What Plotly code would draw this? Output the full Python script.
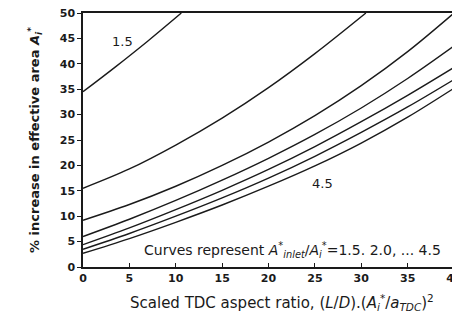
import plotly.graph_objects as go

# Curve parameter (A*_inlet / A_i*)
ratios = ["1.5", "2.0", "2.5", "3.0", "3.5", "4.0", "4.5"]

x_15 = [0, 3.5, 7, 10.6]
y_15 = [34.5, 39.4, 44.5, 50]

x_20 = [0, 5, 10, 15, 20, 25, 30.5]
y_20 = [15.5, 19.3, 24.0, 29.3, 35.3, 42.0, 50]

x_std = [0, 5, 10, 15, 20, 25, 30, 35, 40]
y_25 = [9.2, 12.3, 15.9, 20.0, 24.6, 29.8, 35.7, 42.4, 50]
y_30 = [6.0, 9.4, 13.1, 17.1, 21.4, 26.1, 31.3, 37.1, 43.5]
y_35 = [4.4, 7.7, 11.3, 15.1, 19.2, 23.7, 28.6, 33.8, 39.3]
y_40 = [3.5, 6.6, 10.0, 13.6, 17.5, 21.8, 26.5, 31.5, 36.9]
y_45 = [2.7, 5.6, 8.8, 12.2, 15.9, 19.9, 24.4, 29.5, 35.2]

xs = [x_15, x_20, x_std, x_std, x_std, x_std, x_std]
ys = [y_15, y_20, y_25, y_30, y_35, y_40, y_45]

x_ticks = [0, 5, 10, 15, 20, 25, 30, 35, 40]
y_ticks = [0, 5, 10, 15, 20, 25, 30, 35, 40, 45, 50]

x_title = "Scaled TDC aspect ratio, (<i>L</i>/<i>D</i>).(<i>A<sub>i</sub></i><sup>*</sup>/<i>a</i><sub><i>TDC</i></sub>)<sup>2</sup>"
y_title = "<b>% increase in effective area <i>A</i><sub><i>i</i></sub><sup>*</sup></b>"
note = "Curves represent <i>A</i><sup>*</sup><sub><i>inlet</i></sub>/<i>A</i><sub><i>i</i></sub><sup>*</sup>=1.5. 2.0, ... 4.5"

FONT = "DejaVu Sans"
INK = "#1a1a1a"

fig = go.Figure()
for r, x, y in zip(ratios, xs, ys):
    fig.add_trace(go.Scatter(x=x, y=y, mode="lines", name=r,
                             line=dict(color=INK, width=1.4, shape="spline"),
                             showlegend=False))

fig.add_annotation(x=4.3, y=44.3, text="1.5", showarrow=False,
                   font=dict(family=FONT, size=13, color=INK))
fig.add_annotation(x=25.8, y=16.5, text="4.5", showarrow=False,
                   font=dict(family=FONT, size=13, color=INK))
fig.add_annotation(x=22.6, y=3.4, text=note, showarrow=False, bgcolor="white",
                   font=dict(family=FONT, size=14, color=INK))
# x-axis title, placed slightly right of centre as in the source figure
fig.add_annotation(xref="paper", yref="paper", x=0.536, y=-0.138,
                   xanchor="center", yanchor="middle", text=x_title,
                   showarrow=False, font=dict(family=FONT, size=15, color=INK))

fig.update_xaxes(range=[0, 40], tickvals=x_ticks,
                 ticktext=[f"<b>{v}</b>" for v in x_ticks],
                 ticks="inside", ticklen=4, ticklabeloverflow="allow",
                 tickcolor=INK, showline=True, linecolor=INK, linewidth=1.5,
                 mirror=True, showgrid=False, zeroline=False, automargin=False,
                 tickfont=dict(family=FONT, size=11, color=INK))
fig.update_yaxes(range=[0, 50], tickvals=y_ticks,
                 ticktext=[f"<b>{v}</b>" for v in y_ticks],
                 ticks="outside", ticklen=4, ticklabeloverflow="allow",
                 tickcolor=INK, showline=True, linecolor=INK, linewidth=1.5,
                 mirror=True, showgrid=False, zeroline=False, automargin=False,
                 tickfont=dict(family=FONT, size=11, color=INK),
                 title=dict(text=y_title,
                            font=dict(family=FONT, size=13, color=INK), standoff=17))

# page body has an 8px margin, so the figure is offset by (8, 8) in the window
fig.update_layout(width=452, height=315, margin=dict(l=75, r=6, t=5, b=56),
                  paper_bgcolor="white", plot_bgcolor="white")

fig.write_html("out.html")
